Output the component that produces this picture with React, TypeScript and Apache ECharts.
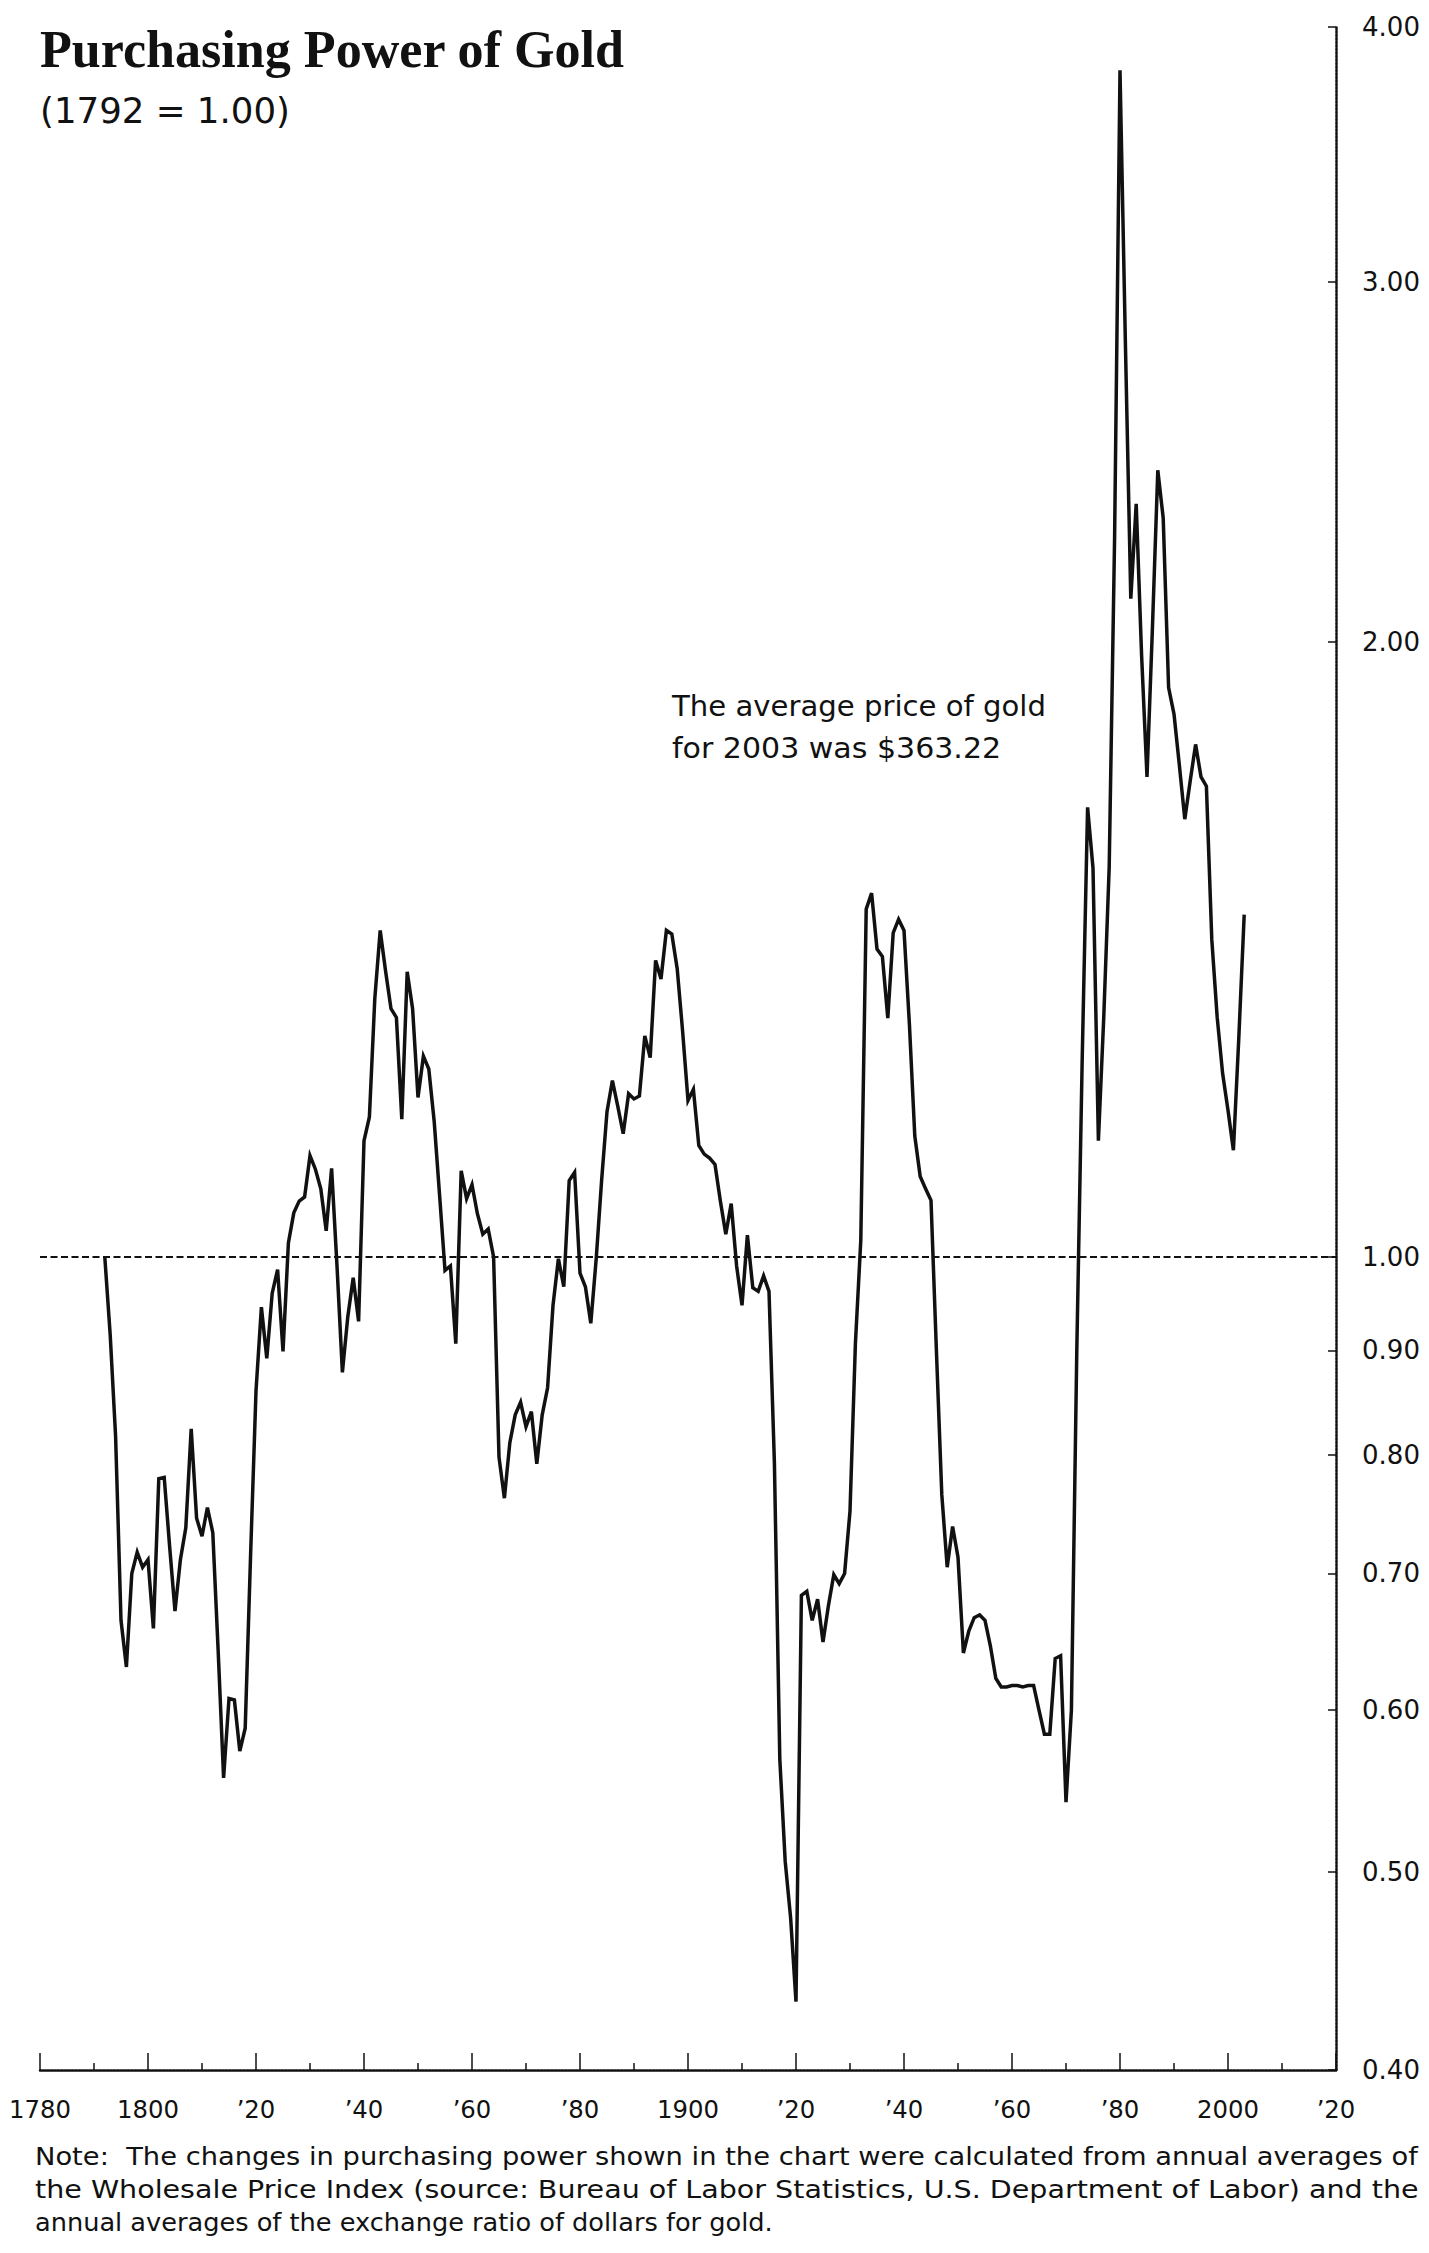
import React, { useEffect, useRef } from "react";
import * as echarts from "echarts";

// ---------------- DATA ----------------
const START_YEAR = 1792;
// Purchasing power of gold (1792 = 1.00), one value per year
const gold1790s = [1.0, 0.916, 0.817, 0.664, 0.63, 0.7, 0.717, 0.705]; // 1792-1799
const gold1800s = [
  0.711, 0.658, 0.779, 0.78, 0.722, 0.671, 0.711, 0.737, 0.824, 0.745,
  0.73, 0.754, 0.733, 0.641, 0.556, 0.608, 0.607, 0.573, 0.588, 0.715,
  0.86, 0.945, 0.892, 0.96, 0.986, 0.899, 1.016, 1.051, 1.065, 1.07,
  1.121, 1.104, 1.08, 1.03, 1.105, 0.99, 0.878, 0.935, 0.977, 0.93,
  1.14, 1.171, 1.338, 1.445, 1.38, 1.323, 1.31, 1.168, 1.379, 1.323,
  1.197, 1.254, 1.236, 1.165, 1.072, 0.985, 0.99, 0.907, 1.102, 1.068,
  1.085, 1.05, 1.026, 1.032, 1.0, 0.798, 0.762, 0.811, 0.837, 0.849,
  0.826, 0.84, 0.792, 0.837, 0.863, 0.947, 0.998, 0.967, 1.09, 1.1,
  0.982, 0.967, 0.928, 0.998, 1.09, 1.178, 1.22, 1.185, 1.149, 1.202,
  1.195, 1.199, 1.283, 1.252, 1.397, 1.368, 1.445, 1.439, 1.384, 1.29,
]; // 1800-1899
const gold1900s = [
  1.193, 1.208, 1.134, 1.123, 1.118, 1.11, 1.065, 1.026, 1.062, 0.99,
  0.947, 1.025, 0.966, 0.962, 0.979, 0.962, 0.793, 0.568, 0.506, 0.475,
  0.432, 0.683, 0.686, 0.664, 0.68, 0.648, 0.675, 0.699, 0.692, 0.7,
  0.751, 0.907, 1.019, 1.48, 1.507, 1.415, 1.403, 1.309, 1.441, 1.463,
  1.445, 1.3, 1.146, 1.095, 1.08, 1.066, 0.9, 0.765, 0.705, 0.738,
  0.713, 0.64, 0.656, 0.666, 0.668, 0.664, 0.645, 0.622, 0.616, 0.616,
  0.617, 0.617, 0.616, 0.617, 0.617, 0.6, 0.584, 0.584, 0.636, 0.638,
  0.541, 0.6, 0.9, 1.25, 1.66, 1.55, 1.14, 1.312, 1.552, 2.25,
  3.81, 2.8, 2.1, 2.337, 1.97, 1.718, 2.03, 2.427, 2.3, 1.9,
  1.844, 1.74, 1.638, 1.71, 1.782, 1.718, 1.7, 1.43, 1.31, 1.23,
]; // 1900-1999
const gold2000s = [1.18, 1.128, 1.28, 1.471]; // 2000-2003

const xTickValues = [1780, 1800, 1820, 1840, 1860, 1880, 1900, 1920, 1940, 1960, 1980, 2000, 2020];
const xTickLabels = ["1780", "1800", "\u201920", "\u201940", "\u201960", "\u201980", "1900", "\u201920", "\u201940", "\u201960", "\u201980", "2000", "\u201920"];
const yTickValues = [0.4, 0.5, 0.6, 0.7, 0.8, 0.9, 1.0, 2.0, 3.0, 4.0];
const yTickLabels = ["0.40", "0.50", "0.60", "0.70", "0.80", "0.90", "1.00", "2.00", "3.00", "4.00"];

const TITLE = "Purchasing Power of Gold";
const SUBTITLE = "(1792 = 1.00)";
const ANNOTATION = ["The average price of gold", "for 2003 was $363.22"];
const NOTE_LINES = [
  "Note:  The changes in purchasing power shown in the chart were calculated from annual averages of",
  "the Wholesale Price Index (source: Bureau of Labor Statistics, U.S. Department of Labor) and the",
  "annual averages of the exchange ratio of dollars for gold.",
];

// ---------------- helpers ----------------
function measure(text: string, family: string, weight: string, size: number): number {
  const c = document.createElement("canvas").getContext("2d");
  if (!c) return 0;
  c.font = `${weight} ${size}px ${family}`;
  return c.measureText(text).width;
}
function fitSize(text: string, family: string, weight: string, target: number): number {
  const w = measure(text, family, weight, 100);
  return w > 0 ? (100 * target) / w : 24;
}
function fitScale(text: string, family: string, weight: string, size: number, target: number): number {
  const w = measure(text, family, weight, size);
  return w > 0 ? target / w : 1;
}

const SANS = "'DejaVu Sans', Verdana, sans-serif";
const SERIF = "'Liberation Serif', 'Times New Roman', serif";

export default function App() {
  const ref = useRef<HTMLDivElement>(null);

  useEffect(() => {
    if (!ref.current) return;
    const chart = echarts.init(ref.current, null, { renderer: "svg" });

    const values = [...gold1790s, ...gold1800s, ...gold1900s, ...gold2000s];
    const data = values.map((v, i) => [START_YEAR + i, Math.log(v)]);
    const yLn = yTickValues.map((v) => Math.log(v));

    const gridLeft = 40;
    const gridRight = 1429 - 1336;
    const gridTop = 27;
    const axisY = 2070;
    const gridBottom = 2253 - axisY;

    const titleSize = fitSize(TITLE, SERIF, "bold", 585);
    const subSize = fitSize(SUBTITLE, SANS, "normal", 250);
    const annSize = fitSize(ANNOTATION[0], SANS, "normal", 374);
    // last (unjustified) note line sets the natural size; the first two are justified to full width
    const noteSize = fitSize(NOTE_LINES[2], SANS, "normal", 738);
    const xLabSize = fitSize("1800", SANS, "normal", 62);
    const yLabSize = fitSize("4.00", SANS, "normal", 58);

    const textEl = (
      text: string,
      x: number,
      y: number,
      size: number,
      family: string,
      weight = "normal",
      scaleX = 1
    ) => ({
      type: "text",
      x,
      y,
      scaleX,
      scaleY: 1,
      silent: true,
      style: {
        text,
        fontSize: size,
        fontFamily: family,
        fontWeight: weight,
        fill: "#111",
        align: "left",
        textAlign: "left",
        verticalAlign: "middle",
        textVerticalAlign: "middle",
      },
    });

    const note1Scale = fitScale(NOTE_LINES[0], SANS, "normal", noteSize, 1383);
    const note2Scale = fitScale(NOTE_LINES[1], SANS, "normal", noteSize, 1383);
    const ann2Scale = fitScale(ANNOTATION[1], SANS, "normal", annSize, 329);

    const option: any = {
      animation: false,
      backgroundColor: "#ffffff",
      grid: { left: gridLeft, right: gridRight, top: gridTop, bottom: gridBottom, containLabel: false },
      xAxis: {
        type: "value",
        min: 1780,
        max: 2020,
        interval: 20,
        axisLine: { show: true, onZero: false, lineStyle: { color: "#111", width: 2.5, type: [2, 1.5] } },
        axisTick: { show: true, inside: true, length: 17, lineStyle: { color: "#111", width: 1.5 } },
        minorTick: { show: true, splitNumber: 2, length: 7, lineStyle: { color: "#111", width: 1.5 } },
        splitLine: { show: false },
        minorSplitLine: { show: false },
        axisLabel: {
          show: true,
          margin: Math.round(2109 - axisY - xLabSize / 2),
          fontSize: xLabSize,
          lineHeight: xLabSize,
          fontFamily: SANS,
          color: "#111",
          showMinLabel: true,
          showMaxLabel: true,
          formatter: (v: number) => {
            const i = xTickValues.indexOf(Math.round(v));
            return i >= 0 ? xTickLabels[i] : "";
          },
        },
      },
      yAxis: {
        type: "value",
        position: "right",
        min: Math.log(0.4),
        max: Math.log(4),
        axisLine: { show: true, lineStyle: { color: "#111", width: 2.5, type: [2, 1.5] } },
        axisTick: { show: true, inside: true, length: 8, customValues: yLn, lineStyle: { color: "#111", width: 1.5 } },
        splitLine: { show: false },
        axisLabel: {
          show: true,
          customValues: yLn,
          margin: 26,
          fontSize: yLabSize,
          fontFamily: SANS,
          color: "#111",
          formatter: (v: number) => {
            let best = 0;
            let bd = Infinity;
            yLn.forEach((l, i) => {
              const d = Math.abs(l - v);
              if (d < bd) {
                bd = d;
                best = i;
              }
            });
            return yTickLabels[best];
          },
        },
      },
      series: [
        {
          type: "line",
          data,
          showSymbol: false,
          symbol: "none",
          silent: true,
          lineStyle: { color: "#111", width: 3.5, join: "miter" },
          markLine: {
            silent: true,
            symbol: "none",
            label: { show: false },
            lineStyle: { color: "#111", width: 2.2, type: [7, 3.5] },
            data: [{ yAxis: 0 }],
          },
        },
      ],
      graphic: [
        textEl(TITLE, 40, 49, titleSize, SERIF, "bold"),
        textEl(SUBTITLE, 40, 110, subSize, SANS),
        textEl(ANNOTATION[0], 672, 706, annSize, SANS),
        textEl(ANNOTATION[1], 672, 748, annSize, SANS, "normal", ann2Scale),
        textEl(NOTE_LINES[0], 35, 2156, noteSize, SANS, "normal", note1Scale),
        textEl(NOTE_LINES[1], 35, 2189, noteSize, SANS, "normal", note2Scale),
        textEl(NOTE_LINES[2], 35, 2222, noteSize, SANS),
      ],
    };

    chart.setOption(option);
    return () => chart.dispose();
  }, []);

  return (
    <div
      ref={ref}
      style={{ position: "absolute", left: 0, top: 0, width: 1429, height: 2253, background: "#fff" }}
    />
  );
}
